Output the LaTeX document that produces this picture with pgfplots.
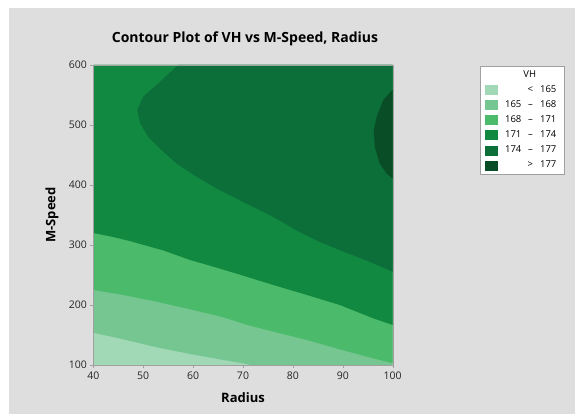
\documentclass[border=0pt]{standalone}
\usepackage{pgfplots}
\pgfplotsset{compat=1.18}
\usepackage{fontspec}
\setmainfont{Open Sans}
\definecolor{c1}{RGB}{161,217,183}
\definecolor{c2}{RGB}{118,198,146}
\definecolor{c3}{RGB}{75,186,106}
\definecolor{c4}{RGB}{17,137,64}
\definecolor{c5}{RGB}{12,111,57}
\definecolor{c6}{RGB}{9,77,38}
\definecolor{bgc}{RGB}{222,222,222}
\definecolor{framec}{RGB}{160,160,160}
\newcommand{\rng}[2]{\makebox[17pt][r]{#1}\makebox[18pt]{--}\makebox[17pt][r]{#2}\hspace*{3pt}}
\newcommand{\lt}[2]{\makebox[17pt]{}\makebox[18pt]{#1}\makebox[17pt][r]{#2}\hspace*{3pt}}
\begin{document}
\begin{tikzpicture}
\fill[white] (0pt,0pt) rectangle (575pt,414pt);
\fill[bgc] (9pt,0pt) rectangle (575pt,406pt);
\node[font=\fontsize{14}{16}\selectfont\bfseries] at (245pt,375pt) {Contour Plot of VH vs M-Speed, Radius};
\begin{axis}[
  at={(93.3pt,49pt)}, anchor=south west,
  scale only axis, width=299.4pt, height=300pt,
  xmin=40, xmax=100, ymin=100, ymax=600,
  xtick={40,50,...,100}, ytick={100,200,...,600},
  tick align=outside, xtick pos=bottom, ytick pos=left,
  major tick length=3pt,
  axis line style={draw=framec},
  tick style={draw=framec},
  /pgf/number format/assume math mode=true,
  tick label style={font=\fontsize{10.5}{12}\selectfont, text=black!85},
  xlabel={Radius}, ylabel={M-Speed},
  label style={font=\fontsize{13}{15}\selectfont\bfseries},
  xlabel style={at={(axis description cs:0.5,-0.11)}, anchor=center},
  ylabel style={at={(axis description cs:-0.138,0.5)}, anchor=center},
  axis on top,
  legend style={at={(1.291,0.997)}, anchor=north west, draw=framec, fill=white,
    font=\fontsize{9.5}{11}\selectfont, inner xsep=5pt, inner ysep=4.3pt,
    row sep=5.7pt, column sep=7pt,
    nodes={inner sep=0pt, text height=7pt, text depth=2pt}},
  legend cell align=left,
]
\addplot[fill=c1, draw=none, forget plot] coordinates {(40,100) (100,100) (100,600) (40,600)} -- cycle;
\addplot[fill=c2, draw=none, forget plot] coordinates {(40,153.8) (46,142.8) (52.7,129.5) (59.4,118.3) (66.1,108.3) (70.7,101.7) (71.5,100) (100,100) (100,600) (40,600)} -- cycle;
\addplot[fill=c3, draw=none, forget plot] coordinates {(40,225) (46,216.7) (52.7,205.5) (59.4,192.8) (66.1,179.5) (70.5,167.5) (76.1,155.5) (82.8,141.7) (89.4,126.1) (96.1,111.1) (100,103) (100,600) (40,600)} -- cycle;
\addplot[fill=c4, draw=none, forget plot] coordinates {(40,320) (44,313.3) (47.3,306.6) (54,291) (59.4,275) (64,264) (70,249) (76.1,233.3) (82.8,216.7) (89.4,200) (96.1,177.8) (100,166.7) (100,600) (40,600)} -- cycle;
\addplot[fill=c5, draw=none, forget plot] coordinates {(57,600) (53,569.4) (50,547.1) (48.8,524.8) (49.4,502.6) (51,480.3) (53.7,458) (56.7,435.7) (60.7,413.5) (65.4,391.2) (70.7,368.9) (76.1,346.7) (80.7,324.4) (85.4,305) (90.4,288) (94.8,274) (100,255.5) (100,600)} -- cycle;
\addplot[fill=c6, draw=none, forget plot] coordinates {(100,559.4) (98.1,541.5) (96.8,513.7) (96.2,491.4) (96.4,463.6) (97.4,435.7) (98.8,419) (100,410.7)} -- cycle;
\addlegendimage{empty legend}
\addlegendentry{\hspace*{19pt}VH}
\addlegendimage{legend image code/.code={\fill[c1] (0pt,-4.5pt) rectangle (12pt,4.5pt);}}
\addlegendentry{\lt{<}{165}}
\addlegendimage{legend image code/.code={\fill[c2] (0pt,-4.5pt) rectangle (12pt,4.5pt);}}
\addlegendentry{\rng{165}{168}}
\addlegendimage{legend image code/.code={\fill[c3] (0pt,-4.5pt) rectangle (12pt,4.5pt);}}
\addlegendentry{\rng{168}{171}}
\addlegendimage{legend image code/.code={\fill[c4] (0pt,-4.5pt) rectangle (12pt,4.5pt);}}
\addlegendentry{\rng{171}{174}}
\addlegendimage{legend image code/.code={\fill[c5] (0pt,-4.5pt) rectangle (12pt,4.5pt);}}
\addlegendentry{\rng{174}{177}}
\addlegendimage{legend image code/.code={\fill[c6] (0pt,-4.5pt) rectangle (12pt,4.5pt);}}
\addlegendentry{\lt{>}{177}}
\end{axis}
\end{tikzpicture}
\end{document}
